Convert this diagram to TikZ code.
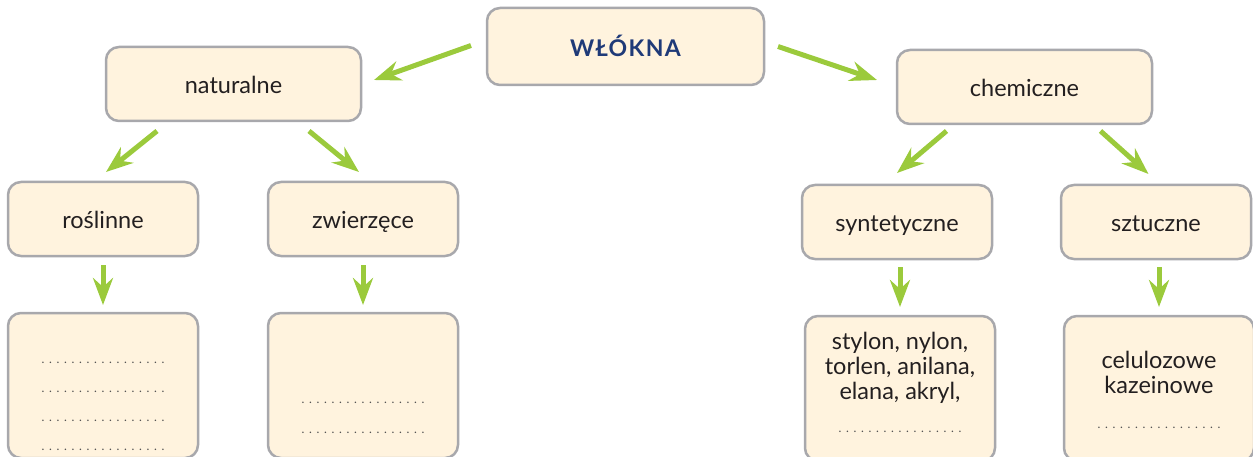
\documentclass[tikz,border=0pt]{standalone}
\usepackage{fontspec}
\setmainfont{Lato}
\usepackage{tikz}
\usetikzlibrary{positioning,arrows.meta}
\definecolor{boxfill}{RGB}{255,243,222}
\definecolor{boxline}{RGB}{168,168,172}
\definecolor{arrgreen}{RGB}{155,202,60}
\definecolor{titleblue}{RGB}{31,58,120}
\definecolor{txtgray}{RGB}{35,31,32}
\definecolor{dotgray}{RGB}{80,80,80}
\tikzset{
  box/.style={draw=boxline, fill=boxfill, line width=2.5pt, rounded corners=13pt,
    outer sep=0pt, inner sep=0pt, text=txtgray, font=\fontsize{23.5}{25}\selectfont},
  mainbox/.style={box, minimum width=277pt, minimum height=77pt, text height=20pt, text depth=0pt,
    text=titleblue, font=\fontsize{23}{25}\selectfont\bfseries\addfontfeature{LetterSpace=6}},
  groupbox/.style={box, minimum width=255pt, minimum height=74pt, text height=20pt, text depth=0pt},
  kindbox/.style={box, minimum width=190pt, minimum height=74pt, text height=20pt, text depth=0pt},
  listbox/.style={box, minimum width=190pt, minimum height=145pt},
  arr/.style={draw=arrgreen, line width=5pt, -{Stealth[length=27pt,width=20pt,inset=9pt]}},
}
\newcommand{\listtext}[2]{\parbox[c][145pt][t]{190pt}{\centering\fontsize{23.5}{25}\selectfont\vspace*{#1}#2}}
\newcommand{\fillin}{\leavevmode{\fontsize{12}{12}\selectfont\color{dotgray}\cleaders\hbox to 7.5pt{\hss.\hss}\hskip 127.5pt}\strut}
\begin{document}
\begin{tikzpicture}
	\useasboundingbox (0pt,0pt) rectangle (1253pt,-457pt) ;
	% Top
	\node[mainbox] (W) at (625.5pt,-46.5pt) {WŁÓKNA} ;
	\node[groupbox, left=126pt of W, yshift=-37.5pt] (nat) {naturalne} ;
	\node[groupbox, right=133pt of W, yshift=-40.5pt] (chem) {chemiczne} ;
	%%%%% naturalne
	\node[kindbox, below=61pt of nat, xshift=-130.5pt] (rosl) {roślinne} ;
	\node[kindbox, right=70pt of rosl] (zwie) {zwierzęce} ;
	\node[listbox, below=57pt of rosl] (roslB) {\listtext{32.5pt}{\fillin\\[4pt]\fillin\\[4pt]\fillin\\[4pt]\fillin}} ;
	\node[listbox, below=57pt of zwie] (zwieB) {\listtext{72.5pt}{\fillin\\[5pt]\fillin}} ;
	%%%%% chemiczne
	\node[kindbox, below=61pt of chem, xshift=-127.5pt] (synt) {syntetyczne} ;
	\node[kindbox, right=69pt of synt] (sztu) {sztuczne} ;
	\node[listbox, below=57pt of synt, xshift=3pt] (syntB) {\listtext{15.5pt}{stylon, nylon,\strut\\torlen, anilana,\\elana, akryl,\\[8pt]\fillin}} ;
	\node[listbox, below=57pt of sztu, xshift=3pt] (sztuB) {\listtext{34.5pt}{celulozowe\strut\\kazeinowe\\[10pt]\fillin}} ;
	% Arrows from the top
	\draw[arr] ([xshift=-16pt,yshift=1pt]W.west) -- ([xshift=13pt,yshift=4pt]nat.east) ;
	\draw[arr] ([xshift=14pt,yshift=0pt]W.east) -- ([xshift=-20pt,yshift=7pt]chem.west) ;
	% naturalne
	\draw[arr] ([xshift=-76.5pt,yshift=-10pt]nat.south) -- ([xshift=3pt,yshift=10pt]rosl.north) ;
	\draw[arr] ([xshift=75.5pt,yshift=-10pt]nat.south) -- ([xshift=-4pt,yshift=10pt]zwie.north) ;
	\draw[arr] ([yshift=-9pt]rosl.south) -- ([yshift=8pt]roslB.north) ;
	\draw[arr] ([yshift=-9pt]zwie.south) -- ([yshift=8pt]zwieB.north) ;
	% chemiczne
	\draw[arr] ([xshift=-78pt,yshift=-7pt]chem.south) -- ([xshift=0pt,yshift=12pt]synt.north) ;
	\draw[arr] ([xshift=76pt,yshift=-7pt]chem.south) -- ([xshift=-7.5pt,yshift=11pt]sztu.north) ;
	\draw[arr] ([yshift=-8pt]syntB.north |- synt.south) -- ([yshift=9pt]syntB.north) ;
	\draw[arr] ([yshift=-8pt]sztuB.north |- sztu.south) -- ([yshift=9pt]sztuB.north) ;
\end{tikzpicture}
\end{document}
